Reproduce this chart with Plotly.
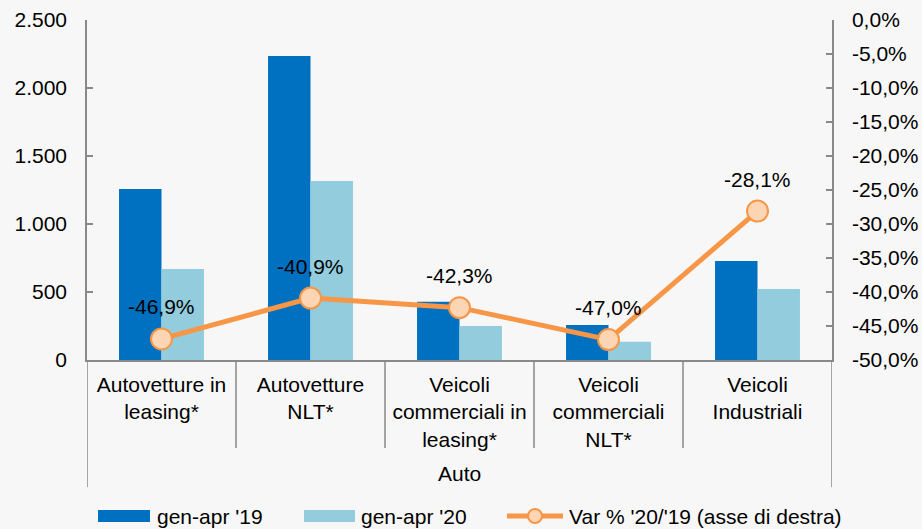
import plotly.graph_objects as go

categories = ["Autovetture in<br>leasing*", "Autovetture<br>NLT*",
              "Veicoli<br>commerciali in<br>leasing*", "Veicoli<br>commerciali<br>NLT*",
              "Veicoli<br>Industriali"]
group_label = "Auto"
series_names = ["gen-apr '19", "gen-apr '20", "Var % '20/'19 (asse di destra)"]
gen_apr_19 = [1257, 2235, 429, 257, 728]
gen_apr_20 = [669, 1316, 250, 135, 522]
var_pct = [-46.9, -40.9, -42.3, -47.0, -28.1]

left_tickvals = [0, 500, 1000, 1500, 2000, 2500]
left_ticktext = ["0", "500", "1.000", "1.500", "2.000", "2.500"]
right_tickvals = [0, -5, -10, -15, -20, -25, -30, -35, -40, -45, -50]
right_ticktext = ["0,0%", "-5,0%", "-10,0%", "-15,0%", "-20,0%", "-25,0%",
                  "-30,0%", "-35,0%", "-40,0%", "-45,0%", "-50,0%"]

FONT = "Liberation Sans, Arial, sans-serif"
FS = 21
AXIS_GRAY = "#898989"
C19, C20, CLINE, CMARK = "#0070C0", "#93CDDD", "#F79646", "#FCD5B4"

# plot area in pixels (for placing the hand-drawn legend)
L, R, T, B = 87, 832, 20, 360
def px_x(p):
    return (p - L) / (R - L)
def px_y(p):
    return (B - p) / (B - T)

fig = go.Figure()
fig.add_trace(go.Bar(x=categories, y=gen_apr_19, name=series_names[0],
                     marker=dict(color=C19, line=dict(width=0))))
fig.add_trace(go.Bar(x=categories, y=gen_apr_20, name=series_names[1],
                     marker=dict(color=C20, line=dict(width=0))))
fig.add_trace(go.Scatter(x=categories, y=var_pct, name=series_names[2],
                         yaxis="y2", mode="lines+markers",
                         line=dict(color=CLINE, width=5),
                         marker=dict(size=21, color=CMARK,
                                     line=dict(color=CLINE, width=2))))

annotations = []
for c, v in zip(categories, var_pct):
    annotations.append(dict(x=c, y=v, xref="x", yref="y2",
                            text=f"{v:.1f}%".replace(".", ","),
                            showarrow=False, yshift=32,
                            font=dict(size=FS, color="#000000", family=FONT)))
annotations.append(dict(x=2, y=px_y(473), xref="x", yref="paper", text=group_label,
                        showarrow=False, yanchor="middle",
                        font=dict(size=FS, color="#000000", family=FONT)))

shapes = []
for b in [0.5, 1.5, 2.5, 3.5]:
    shapes.append(dict(type="line", xref="x", yref="paper", x0=b, x1=b, y0=0, y1=px_y(448),
                       line=dict(color=AXIS_GRAY, width=1.5)))
for b in [-0.5, 4.5]:
    shapes.append(dict(type="line", xref="x", yref="paper", x0=b, x1=b, y0=0, y1=px_y(487),
                       line=dict(color=AXIS_GRAY, width=1.5)))

# legend (drawn by hand to match the wide swatches)
leg_y = 516
shapes.append(dict(type="rect", xref="paper", yref="paper", x0=px_x(98), x1=px_x(150),
                   y0=px_y(leg_y + 6), y1=px_y(leg_y - 6), fillcolor=C19, line=dict(width=0)))
shapes.append(dict(type="rect", xref="paper", yref="paper", x0=px_x(304), x1=px_x(355),
                   y0=px_y(leg_y + 6), y1=px_y(leg_y - 6), fillcolor=C20, line=dict(width=0)))
shapes.append(dict(type="line", xref="paper", yref="paper", x0=px_x(507), x1=px_x(563),
                   y0=px_y(leg_y), y1=px_y(leg_y), line=dict(color=CLINE, width=5)))
shapes.append(dict(type="circle", xref="paper", yref="paper", x0=px_x(528), x1=px_x(542),
                   y0=px_y(leg_y + 7), y1=px_y(leg_y - 7), fillcolor=CMARK,
                   line=dict(color=CLINE, width=2)))
for name, xp in zip(series_names, [155, 359, 567]):
    annotations.append(dict(x=px_x(xp), y=px_y(leg_y), xref="paper", yref="paper",
                            text=name, showarrow=False, xanchor="left", yanchor="middle",
                            font=dict(size=FS, color="#000000", family=FONT)))

fig.update_layout(
    width=922, height=529,
    margin=dict(l=L, r=922 - R, t=T, b=529 - B),
    paper_bgcolor="#f7f7f7", plot_bgcolor="#f7f7f7",
    font=dict(family=FONT, size=FS, color="#000000"),
    barmode="group", bargap=0.43, bargroupgap=0,
    showlegend=False,
    xaxis=dict(showline=True, linecolor=AXIS_GRAY, linewidth=1.5, ticks="",
               showgrid=False, tickangle=0, range=[-0.5, 4.5], automargin=False,
               ticklabelstandoff=5),
    yaxis=dict(range=[0, 2500], tickvals=left_tickvals, ticktext=left_ticktext,
               showline=True, linecolor=AXIS_GRAY, linewidth=1.5,
               ticks="inside", ticklen=6, tickcolor=AXIS_GRAY, tickwidth=1.5,
               showgrid=False, zeroline=False, ticklabelstandoff=14, automargin=False),
    yaxis2=dict(range=[-50, 0], tickvals=right_tickvals, ticktext=right_ticktext,
                overlaying="y", side="right",
                showline=True, linecolor=AXIS_GRAY, linewidth=1.5,
                ticks="inside", ticklen=6, tickcolor=AXIS_GRAY, tickwidth=1.5,
                showgrid=False, zeroline=False, ticklabelstandoff=14, automargin=False),
    annotations=annotations, shapes=shapes,
)

fig.write_html("out.html", config={"displayModeBar": False},
               post_script="document.body.style.margin='0';document.body.style.overflow='hidden';")
